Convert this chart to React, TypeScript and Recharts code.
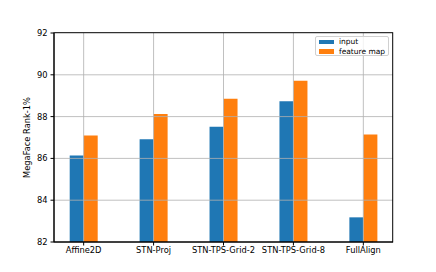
import React from 'react';
import { BarChart, Bar, XAxis, YAxis, ReferenceLine } from 'recharts';

const categories = ['Affine2D', 'STN-Proj', 'STN-TPS-Grid-2', 'STN-TPS-Grid-8', 'FullAlign'];
const inputValues = [86.14, 86.92, 87.52, 88.73, 83.18];
const featureMapValues = [87.09, 88.12, 88.86, 89.72, 87.14];
const yTicks = [82, 84, 86, 88, 90, 92];

const data = categories.map((name, i) => ({
  name,
  input: inputValues[i],
  featureMap: featureMapValues[i],
}));

const FONT = 'DejaVu Sans, sans-serif';
const FS = 8.3;
const GRID = { stroke: '#b0b0b0', strokeOpacity: 0.8, strokeWidth: 1 };

const LegendBox = () => (
  <div
    style={{
      position: 'absolute',
      left: 315,
      top: 36,
      width: 74,
      height: 20,
      boxSizing: 'border-box',
      border: '1px solid #d0d0d0',
      borderRadius: 2,
      background: 'rgba(255,255,255,0.8)',
      fontFamily: FONT,
      fontSize: 7.5,
      color: '#000',
    }}
  >
    <div style={{ position: 'absolute', left: 3, top: 2.5, width: 15, height: 4.5, background: '#1f77b4' }} />
    <div style={{ position: 'absolute', left: 23, top: 0, lineHeight: '9px' }}>input</div>
    <div style={{ position: 'absolute', left: 3, top: 12, width: 15, height: 4.5, background: '#ff7f0e' }} />
    <div style={{ position: 'absolute', left: 23, top: 9.5, lineHeight: '9px' }}>feature map</div>
  </div>
);

export default function App() {
  return (
    <div style={{ position: 'absolute', left: 0, top: 0, background: '#fff' }}>
      <div style={{ position: 'relative', width: 436, height: 272 }}>
        <BarChart
          width={436}
          height={272}
          data={data}
          margin={{ top: 33, right: 43, bottom: 0, left: 0 }}
          barGap={0}
          barSize={14}
        >
          <XAxis
            dataKey="name"
            height={30}
            padding={{ left: -5.3, right: -5.3 }}
            tickSize={3.5}
            tickMargin={1.5}
            stroke="#000"
            tick={{ fill: '#000', fontSize: FS, fontFamily: FONT }}
            interval={0}
          />
          <YAxis
            domain={[82, 92]}
            ticks={yTicks}
            width={54}
            tickSize={3.5}
            tickMargin={3}
            stroke="#000"
            tick={{ fill: '#000', fontSize: FS, fontFamily: FONT }}
            label={{
              value: 'MegaFace Rank-1%',
              angle: -90,
              position: 'insideLeft',
              offset: 27,
              style: { textAnchor: 'middle', fontSize: FS, fontFamily: FONT, fill: '#000' },
            }}
          />
          <Bar dataKey="input" fill="#1f77b4" isAnimationActive={false} />
          <Bar dataKey="featureMap" fill="#ff7f0e" isAnimationActive={false} />
          {yTicks.slice(1, -1).map((v) => (
            <ReferenceLine key={'y' + v} y={v} {...GRID} />
          ))}
          {categories.map((c) => (
            <ReferenceLine key={'x' + c} x={c} {...GRID} />
          ))}
        </BarChart>
        <svg
          width={436}
          height={272}
          style={{ position: 'absolute', left: 0, top: 0, pointerEvents: 'none' }}
        >
          <rect x={54} y={32.7} width={338.7} height={209.3} fill="none" stroke="#000" strokeWidth={1} />
        </svg>
        <LegendBox />
      </div>
    </div>
  );
}
